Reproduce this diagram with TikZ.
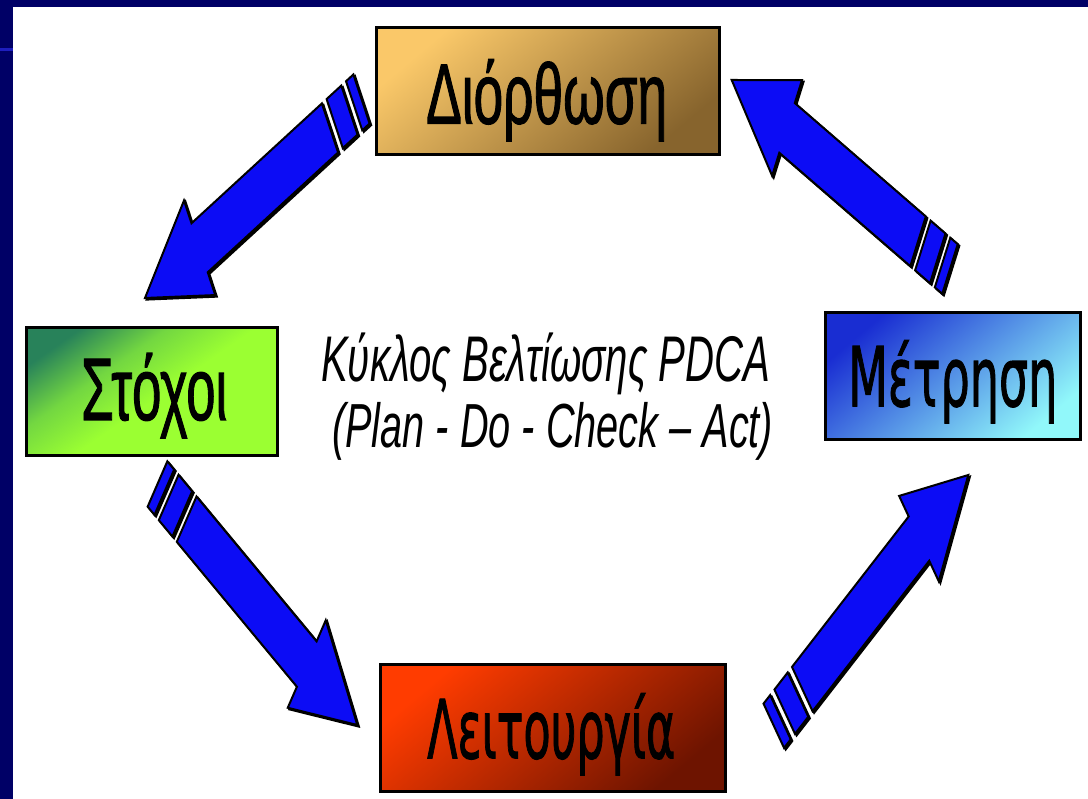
\documentclass[tikz,border=0pt]{standalone}
\usepackage{fontspec}
\setmainfont{Liberation Sans}
\newfontfamily\sqfont[FakeBold=1.6]{Liberation Sans}
\newfontfamily\roundfont[FakeBold=1.6]{DejaVu Sans}
\usepackage{graphicx}

\definecolor{navy}{RGB}{0,0,102}
\definecolor{navyline}{RGB}{30,30,190}
\definecolor{arrowblue}{RGB}{12,12,245}
\definecolor{diorA}{RGB}{250,200,105}
\definecolor{diorB}{RGB}{135,100,45}
\definecolor{stoxA}{RGB}{40,130,90}
\definecolor{stoxM}{RGB}{115,215,65}
\definecolor{stoxB}{RGB}{155,255,50}
\definecolor{metrA}{RGB}{25,45,210}
\definecolor{metrM}{RGB}{85,145,230}
\definecolor{metrB}{RGB}{145,248,250}
\definecolor{leitA}{RGB}{255,60,0}
\definecolor{leitM}{RGB}{210,45,0}
\definecolor{leitB}{RGB}{110,20,0}

\pgfdeclareverticalshading{stoxshade}{100bp}{color(0bp)=(stoxB); color(48bp)=(stoxB); color(62bp)=(stoxM); color(76bp)=(stoxA); color(100bp)=(stoxA)}

\tikzset{
  box/.style={draw=black, line width=2.5pt, inner sep=0pt},
  txt/.style={inner sep=0pt, anchor=north west, text=black},
  arrowbody/.style={fill=arrowblue, draw=black, line width=2pt, line join=miter},
  arrowshadow/.style={fill=black, draw=black, line width=2pt, line join=miter},
}

% striped block arrow from #1 (tail) to #2 (tip); drawn in an unsquashed frame, then squashed in x by 0.6
\newcommand{\pdcaarrow}[2]{%
  \path (#1); \pgfgetlastxy{\pdXa}{\pdYa}%
  \path (#2); \pgfgetlastxy{\pdXb}{\pdYb}%
  \pgfmathsetmacro{\pdDx}{(\pdXb-\pdXa)/0.6}%
  \pgfmathsetmacro{\pdDy}{\pdYb-\pdYa}%
  \pgfmathsetmacro{\pdL}{100*veclen(\pdDx/100,\pdDy/100)}%
  \pgfmathsetmacro{\pdA}{0.6*\pdDx/\pdL}%
  \pgfmathsetmacro{\pdB}{\pdDy/\pdL}%
  \pgfmathsetmacro{\pdC}{-0.6*\pdDy/\pdL}%
  \pgfmathsetmacro{\pdD}{\pdDx/\pdL}%
  \pgfmathsetmacro{\pdH}{\pdL-104}%
  \begin{scope}[cm={\pdA,\pdB,\pdC,\pdD,(\pdXa+1.6pt,\pdYa-1.6pt)}]
    \path[arrowshadow] (60,28) -- (\pdH,28) -- (\pdH,54) -- (\pdL,0) -- (\pdH,-54) -- (\pdH,-28) -- (60,-28) -- cycle;
    \path[arrowshadow] (23,28) rectangle (51,-28);
    \path[arrowshadow] (0,28) rectangle (14,-28);
  \end{scope}
  \begin{scope}[cm={\pdA,\pdB,\pdC,\pdD,(\pdXa,\pdYa)}]
    \path[arrowbody] (60,28) -- (\pdH,28) -- (\pdH,54) -- (\pdL,0) -- (\pdH,-54) -- (\pdH,-28) -- (60,-28) -- cycle;
    \path[arrowbody] (23,28) rectangle (51,-28);
    \path[arrowbody] (0,28) rectangle (14,-28);
  \end{scope}
}

\begin{document}
\begin{tikzpicture}[x=1pt, y=1pt]
  % frame
  \fill[white] (0,0) rectangle (1088,-799);
  \useasboundingbox (0,0) rectangle (1088,-799);
  \fill[navy] (0,0) rectangle (1088,-7);
  \fill[navy] (0,0) rectangle (13,-799);
  \fill[navyline] (0,-48) rectangle (13,-51.5);

  % boxes
  \node[box, minimum width=343pt, minimum height=127pt,
        top color=diorA, bottom color=diorB, shading angle=40] (dior) at (548,-91) {};
  \node[box, minimum width=251pt, minimum height=128pt,
        shading=stoxshade, shading angle=35] (stox) at (152,-391.5) {};
  \node[box, minimum width=255pt, minimum height=127pt,
        top color=metrA, middle color=metrM, bottom color=metrB, shading angle=40] (metr) at (953,-376) {};
  \node[box, minimum width=345pt, minimum height=127pt,
        top color=leitA, middle color=leitM, bottom color=leitB, shading angle=40] (leit) at (553,-728) {};

  % box texts
  \node[txt] (diortxt) at (426,-59) {\resizebox*{241pt}{82pt}{\sqfont Διόρθωση}};
  \node[txt] (stoxtxt) at (81,-353) {\resizebox*{146pt}{85pt}{\sqfont Στόχοι}};
  \node[txt] (metrtxt) at (848,-340) {\resizebox*{209pt}{83pt}{\roundfont Μέτρηση}};
  \node[txt] (leittxt) at (427,-693) {\resizebox*{248pt}{82pt}{\roundfont Λειτουργία}};

  % centre caption
  \node[txt] (cap1) at (321,-333) {\resizebox*{449pt}{62pt}{\itshape Κύκλος Βελτίωσης PDCA}};
  \node[txt] (cap2) at (332,-402) {\resizebox*{441pt}{58pt}{\itshape (Plan - Do - Check – Act)}};

  % arrow ends
  \coordinate (a1s) at (361.5,-99);   \coordinate (a1e) at (145,-298);
  \coordinate (a2s) at (157.5,-484);  \coordinate (a2e) at (357.3,-725);
  \coordinate (a3s) at (773.8,-725.8);\coordinate (a3e) at (968.3,-475);
  \coordinate (a4s) at (950,-269);    \coordinate (a4e) at (731.7,-80);

  \pdcaarrow{a1s}{a1e}
  \pdcaarrow{a2s}{a2e}
  \pdcaarrow{a3s}{a3e}
  \pdcaarrow{a4s}{a4e}
\end{tikzpicture}
\end{document}
